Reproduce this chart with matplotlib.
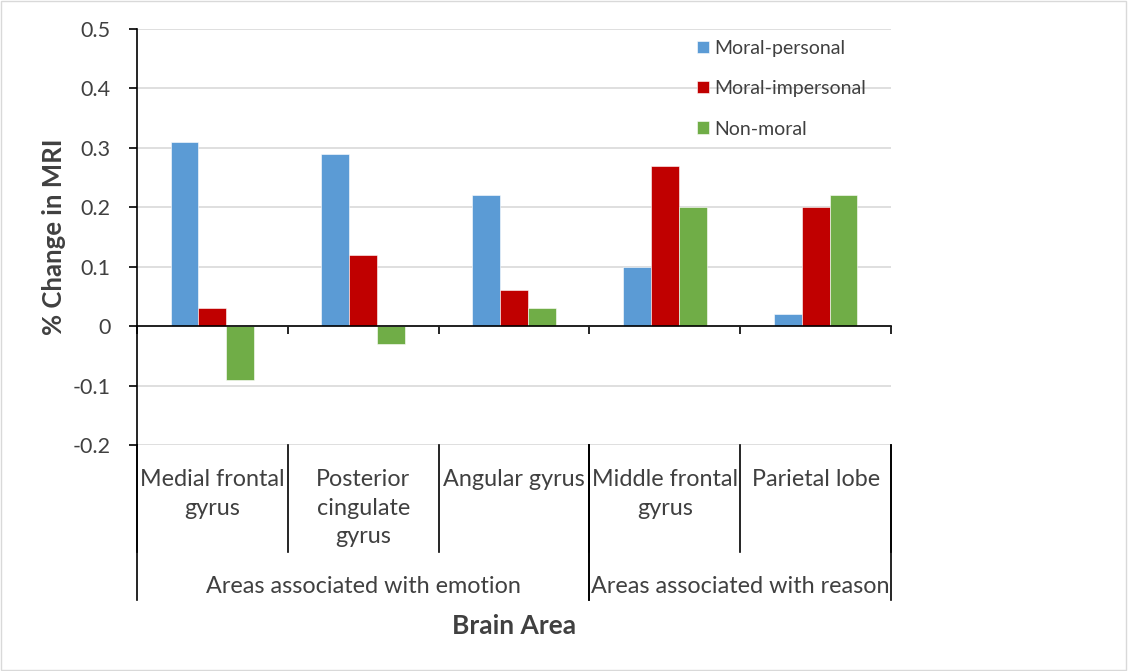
# bar chart of % change in MRI by brain area

import numpy as np
import matplotlib.pyplot as plt
from matplotlib.patches import Rectangle

areas = ["Medial frontal\ngyrus", "Posterior\ncingulate\ngyrus", "Angular gyrus",
         "Middle frontal\ngyrus", "Parietal lobe"]
groups = ["Areas associated with emotion", "Areas associated with reason"]
group_spans = [(0, 2), (3, 4)]

moral_personal = [0.31, 0.29, 0.22, 0.10, 0.02]
moral_impersonal = [0.03, 0.12, 0.06, 0.27, 0.20]
non_moral = [-0.09, -0.03, 0.03, 0.20, 0.22]

series = ["Moral-personal", "Moral-impersonal", "Non-moral"]
colors = ["#5b9bd5", "#c00000", "#70ad47"]

yticks = [-0.2, -0.1, 0, 0.1, 0.2, 0.3, 0.4, 0.5]
ytick_labels = ["-0.2", "-0.1", "0", "0.1", "0.2", "0.3", "0.4", "0.5"]

plt.rcParams['font.family'] = ['Lato', 'DejaVu Sans']
txt_color = "#404040"

fig = plt.figure(figsize=(11.28, 6.71), dpi=100)
ax = fig.add_axes([137/1128, 1 - 445/671, (891-137)/1128, (445-29)/671])

x = np.arange(len(areas))
w = 0.185
for i, (vals, name, c) in enumerate(zip([moral_personal, moral_impersonal, non_moral], series, colors)):
    ax.bar(x + (i - 1) * w, vals, width=w, color=c, label=name, zorder=3,
           edgecolor="white", linewidth=0.4)

ax.set_xlim(-0.5, len(areas) - 0.5)
ax.set_ylim(-0.2, 0.5)
ax.set_yticks(yticks)
ax.set_yticklabels(ytick_labels, fontsize=15.5, color=txt_color)
ax.yaxis.grid(True, color="#d9d9d9", linewidth=1.2, zorder=0)
ax.set_axisbelow(True)

for s in ["top", "right"]:
    ax.spines[s].set_visible(False)
ax.spines["bottom"].set_position(("data", 0))
ax.spines["bottom"].set_zorder(4)
ax.spines["left"].set_linewidth(1.2)
ax.spines["bottom"].set_linewidth(1.2)
ax.set_xticks(np.arange(-0.5, len(areas), 1.0))
ax.set_xticklabels([])
ax.tick_params(axis="x", length=6, width=1.2, direction="out")
ax.tick_params(axis="y", length=6, width=1.2, direction="out", pad=13)

# category labels under the plot
tr = ax.get_xaxis_transform()
for i, name in enumerate(areas):
    ax.text(i, -0.058, name, transform=tr, ha="center", va="top", fontsize=16.8,
            color=txt_color, linespacing=1.45)
for b in np.arange(-0.5, len(areas), 1.0):
    ax.plot([b, b], [0, -0.257], transform=tr, color="black", lw=1.2, clip_on=False)
for (a, b), g in zip(group_spans, groups):
    ax.text((a + b) / 2, -0.341, g, transform=tr, ha="center", va="center",
            fontsize=16.8, color=txt_color)
    for e in (a - 0.5, b + 0.5):
        ax.plot([e, e], [0, -0.3726], transform=tr, color="black", lw=1.2, clip_on=False)

ax.text(0.5, -0.435, "Brain Area", transform=ax.transAxes, ha="center", va="center",
        fontsize=19, fontweight="bold", color=txt_color)
ax.set_ylabel("% Change in MRI", fontsize=18.5, fontweight="bold", color=txt_color, labelpad=5)

ax.legend(loc="upper left", bbox_to_anchor=(0.72, 1.016), frameon=False, fontsize=14,
          handlelength=0.6, handleheight=0.6, handletextpad=0.25, labelspacing=1.2,
          labelcolor=txt_color)

fig.patches.append(Rectangle((0.001, 0.001), 0.997, 0.997, transform=fig.transFigure,
                             fill=False, edgecolor="#d9d9d9", linewidth=1))

fig.savefig("out.png", dpi=100)
